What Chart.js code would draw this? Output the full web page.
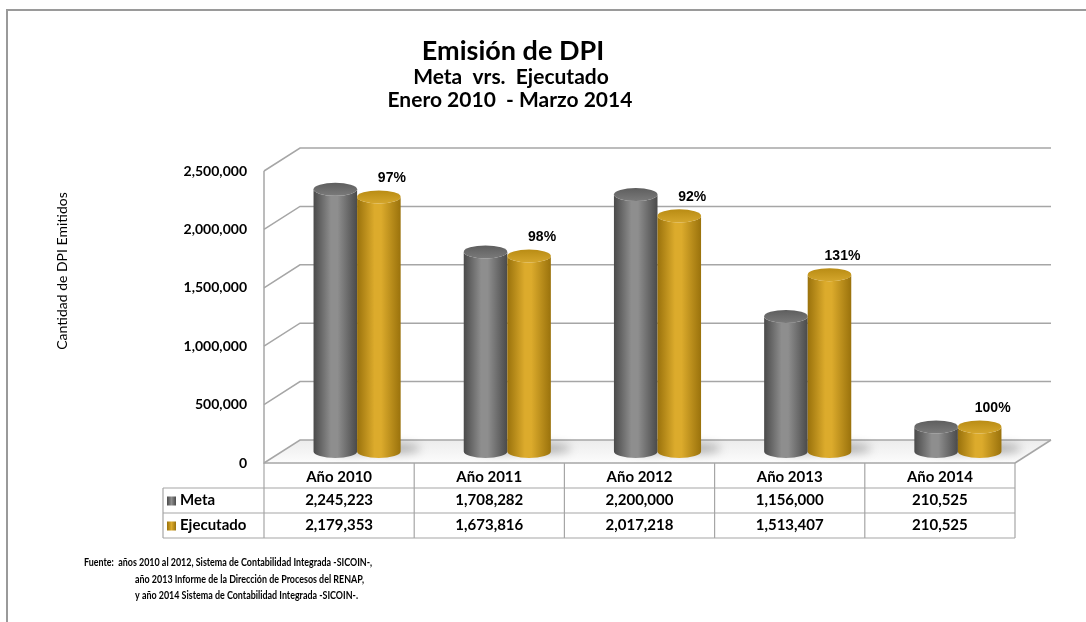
<!DOCTYPE html>
<html><head><meta charset="utf-8">
<script src="https://cdn.jsdelivr.net/npm/chart.js@4.4.1/dist/chart.umd.min.js"></script>
<style>html,body{margin:0;padding:0;background:#fff;} #wrap{position:relative;width:1086px;height:622px;}</style>
</head><body><div id="wrap"><canvas id="c" width="1086" height="622"></canvas></div>
<script>
const categories = ['Año 2010','Año 2011','Año 2012','Año 2013','Año 2014'];
const metaValues = [2245223,1708282,2200000,1156000,210525];
const ejecutadoValues = [2179353,1673816,2017218,1513407,210525];
const pctLabels = ['97%','98%','92%','131%','100%'];
const yTicks = [0,500000,1000000,1500000,2000000,2500000];
const seriesNames = ['Meta','Ejecutado'];
const titleLines = ['Emisión de DPI','Meta  vrs.  Ejecutado','Enero 2010  - Marzo 2014'];
const yAxisTitle = 'Cantidad de DPI Emitidos';
const footLines = [
  'Fuente:  años 2010 al 2012, Sistema de Contabilidad Integrada -SICOIN-,',
  'año 2013 Informe de la Dirección de Procesos del RENAP,',
  'y año 2014 Sistema de Contabilidad Integrada -SICOIN-.'
];

const DX = 36, DY = 23;
const FONT = 'Lato, "Open Sans", sans-serif';
const fmt = v => v.toLocaleString('en-US');
const seriesStyle = [
  {edge:'#4a4a4a', mid:'#8e8e8e', top:'#5e5e5e', topHi:'#7a7a7a'},
  {edge:'#9a720c', mid:'#dcab2c', top:'#b98c14', topHi:'#d4a62c'}
];

function line(ctx, pts){ ctx.beginPath(); ctx.moveTo(pts[0][0],pts[0][1]); for(let i=1;i<pts.length;i++) ctx.lineTo(pts[i][0],pts[i][1]); ctx.stroke(); }

const threeD = {
  id:'threeD',
  beforeDatasetsDraw(chart){
    const {ctx, chartArea:a, scales:{y}} = chart;
    const y0 = y.getPixelForValue(0);
    ctx.save();
    const g = ctx.createLinearGradient(0, y0-DY, 0, y0);
    g.addColorStop(0,'#ececec'); g.addColorStop(1,'#fcfcfc');
    ctx.fillStyle = g;
    ctx.beginPath(); ctx.moveTo(a.left,y0); ctx.lineTo(a.left+DX,y0-DY); ctx.lineTo(a.right+DX,y0-DY); ctx.lineTo(a.right,y0); ctx.closePath(); ctx.fill();
    ctx.strokeStyle = '#a6a6a6'; ctx.lineWidth = 1.5;
    yTicks.forEach(v=>{
      const p = y.getPixelForValue(v);
      line(ctx, [[a.left,p],[a.left+DX,p-DY],[a.right+DX,p-DY]]);
    });
    line(ctx, [[a.right,y0],[a.right+DX,y0-DY]]);
    line(ctx, [[a.left,y.getPixelForValue(yTicks[yTicks.length-1])],[a.left,y0],[a.right,y0]]);
    ctx.restore();
  },
  afterDatasetsDraw(chart){
    const {ctx} = chart;
    ctx.save();
    chart.data.datasets.forEach((ds,i)=>{
      chart.getDatasetMeta(i).data.forEach(bar=>{
        const {x, base, width} = bar.getProps(['x','base','width'], true);
        ctx.save();
        ctx.filter = 'blur(5px)';
        ctx.fillStyle = 'rgba(0,0,0,0.28)';
        ctx.beginPath();
        ctx.ellipse(x + DX*0.5 + width*0.35, base - DY*0.5 - 3, width*0.6, 5, 0, 0, Math.PI*2);
        ctx.fill();
        ctx.restore();
      });
    });
    chart.data.datasets.forEach((ds,i)=>{
      const st = seriesStyle[i];
      chart.getDatasetMeta(i).data.forEach(bar=>{
        const {x, y:top, base, width} = bar.getProps(['x','y','base','width'], true);
        const cx = x + DX/2, tY = top - DY/2, bY = base - DY/2;
        const rx = width/2, ry = Math.max(3, width*0.15);
        const gr = ctx.createLinearGradient(cx-rx,0,cx+rx,0);
        gr.addColorStop(0, st.edge); gr.addColorStop(0.4, st.mid); gr.addColorStop(0.55, st.mid); gr.addColorStop(1, st.edge);
        ctx.fillStyle = gr;
        ctx.beginPath();
        ctx.moveTo(cx-rx, tY);
        ctx.lineTo(cx-rx, bY);
        ctx.ellipse(cx, bY, rx, ry, 0, Math.PI, 0, true);
        ctx.lineTo(cx+rx, tY);
        ctx.ellipse(cx, tY, rx, ry, 0, 0, Math.PI, false);
        ctx.closePath();
        ctx.fill();
        const gt = ctx.createLinearGradient(0,tY-ry,0,tY+ry);
        gt.addColorStop(0, st.top); gt.addColorStop(1, st.topHi);
        ctx.fillStyle = gt;
        ctx.beginPath(); ctx.ellipse(cx, tY, rx, ry, 0, 0, Math.PI*2); ctx.fill();
      });
    });
    ctx.fillStyle = '#000'; ctx.font = 'bold 14px "Liberation Sans", Arial, sans-serif';
    ctx.textAlign = 'center'; ctx.textBaseline = 'middle';
    chart.getDatasetMeta(1).data.forEach((bar,j)=>{
      const {x, y:top} = bar.getProps(['x','y'], true);
      ctx.fillText(pctLabels[j], x + 31, top - 30);
    });
    ctx.restore();
  },
  afterDraw(chart){
    const {ctx, chartArea:a, scales:{x}} = chart;
    ctx.save();
    ctx.strokeStyle = '#9a9a9a'; ctx.lineWidth = 2;
    line(ctx, [[7,622],[7,10],[1086,10]]);
    ctx.fillStyle = '#000'; ctx.textAlign = 'center'; ctx.textBaseline = 'middle';
    ctx.font = 'bold 27px ' + FONT; ctx.fillText(titleLines[0], 513, 51);
    ctx.save(); ctx.translate(511, 0); ctx.scale(1.05, 1);
    ctx.font = 'bold 20px ' + FONT; ctx.fillText(titleLines[1], 0, 78);
    ctx.fillText(titleLines[2], -1, 101);
    ctx.restore();
    ctx.save(); ctx.translate(62, 271); ctx.rotate(-Math.PI/2);
    ctx.font = '14px ' + FONT; ctx.fillText(yAxisTitle, 0, 0); ctx.restore();
    const n = categories.length, cw = a.width / n, rh = 25, top = a.bottom, tl = 163;
    ctx.strokeStyle = '#a6a6a6'; ctx.lineWidth = 1.2;
    for (let k=0;k<=n;k++){ const xx = a.left + k*cw; line(ctx, [[xx, top],[xx, top+3*rh]]); }
    line(ctx, [[tl, top+rh],[tl, top+3*rh]]);
    for (let r=1;r<=3;r++) line(ctx, [[tl, top+r*rh],[a.right, top+r*rh]]);
    ctx.font = 'bold 15px ' + FONT;
    categories.forEach((c,j)=>{
      const cx = x.getPixelForValue(j);
      ctx.fillText(c, cx, top + rh/2 + 2);
      ctx.fillText(fmt(metaValues[j]), cx, top + rh*1.5);
      ctx.fillText(fmt(ejecutadoValues[j]), cx, top + rh*2.5);
    });
    ctx.textAlign = 'left';
    seriesNames.forEach((s,i)=>{
      const yy = top + rh*(1.5+i);
      const gi = ctx.createLinearGradient(167,0,176,0);
      gi.addColorStop(0, seriesStyle[i].edge); gi.addColorStop(0.5, seriesStyle[i].mid); gi.addColorStop(1, seriesStyle[i].edge);
      ctx.fillStyle = gi; ctx.fillRect(167, yy-4, 9, 9);
      ctx.fillStyle = '#000'; ctx.fillText(s, 180, yy);
    });
    ctx.font = 'bold 10.5px ' + FONT;
    const fy = [563, 580, 596], fx = [84, 135, 135];
    footLines.forEach((t,k)=>{
      ctx.save(); ctx.translate(fx[k], fy[k]); ctx.scale(0.85, 1); ctx.fillText(t, 0, 0); ctx.restore();
    });
    ctx.restore();
  }
};

new Chart(document.getElementById('c'), {
  type:'bar',
  data:{
    labels: categories,
    datasets:[
      {label:seriesNames[0], data:metaValues, backgroundColor:'rgba(0,0,0,0)', borderWidth:0},
      {label:seriesNames[1], data:ejecutadoValues, backgroundColor:'rgba(0,0,0,0)', borderWidth:0}
    ]
  },
  options:{
    responsive:false, animation:false, devicePixelRatio:1,
    layout:{padding:{left:0, top:171, right:71, bottom:159}},
    datasets:{bar:{categoryPercentage:0.58, barPercentage:1}},
    plugins:{legend:{display:false}, tooltip:{enabled:false}, title:{display:false}},
    scales:{
      x:{display:false},
      y:{
        min:0, max:2500000,
        afterFit(s){ s.width = 264; },
        afterBuildTicks(s){ s.ticks = yTicks.map(v=>({value:v})); },
        ticks:{callback:v=>fmt(v), color:'#000', padding:17, font:{family:FONT, size:14, weight:'bold'}},
        grid:{display:false, drawTicks:false},
        border:{display:false}
      }
    }
  },
  plugins:[threeD]
});
</script>
</body></html>
